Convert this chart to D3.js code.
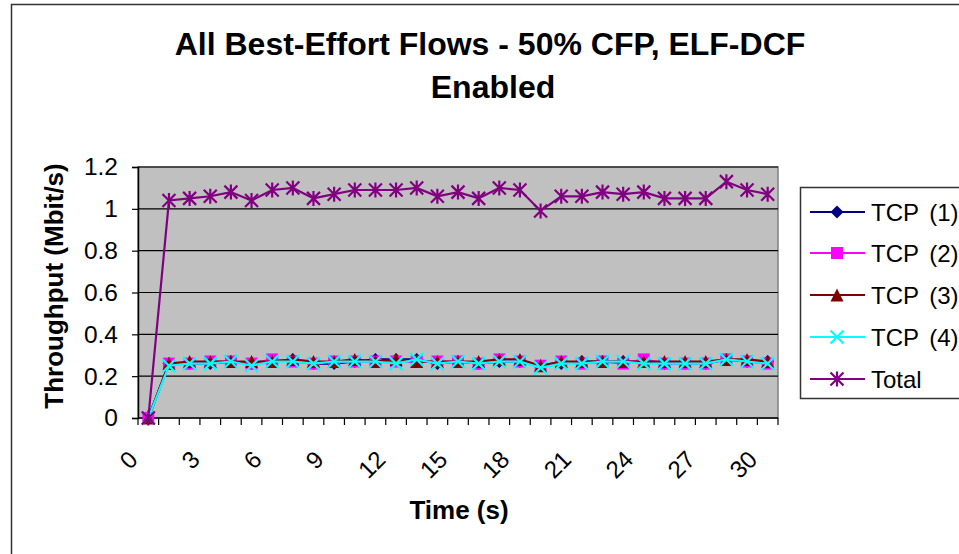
<!DOCTYPE html>
<html>
<head>
<meta charset="utf-8">
<script src="https://cdn.jsdelivr.net/npm/d3@7"></script>
<style>
  html, body { margin: 0; padding: 0; background: #fff; }
  svg { display: block; font-family: "Liberation Sans", Arial, sans-serif; }
</style>
</head>
<body>
<svg id="chart" width="959" height="554"></svg>
<script>
const categories = [0,1,2,3,4,5,6,7,8,9,10,11,12,13,14,15,16,17,18,19,20,21,22,23,24,25,26,27,28,29,30];
const xTickLabels = ["0","3","6","9","12","15","18","21","24","27","30"];
const yTicks = [0, 0.2, 0.4, 0.6, 0.8, 1, 1.2];
const yTickLabels = ["0","0.2","0.4","0.6","0.8","1","1.2"];
const seriesNames = ["TCP (1)", "TCP (2)", "TCP (3)", "TCP (4)", "Total"];
const tcp1 = [0,0.26,0.26,0.26,0.27,0.26,0.27,0.28,0.26,0.26,0.27,0.28,0.28,0.28,0.26,0.27,0.26,0.27,0.27,0.25,0.26,0.27,0.27,0.27,0.27,0.26,0.26,0.26,0.28,0.27,0.27];
const tcp2 = [0,0.26,0.26,0.27,0.27,0.26,0.28,0.27,0.26,0.27,0.27,0.27,0.27,0.27,0.27,0.27,0.26,0.28,0.27,0.25,0.27,0.26,0.27,0.26,0.28,0.26,0.26,0.26,0.28,0.27,0.26];
const tcp3 = [0,0.26,0.27,0.27,0.27,0.27,0.27,0.28,0.27,0.27,0.28,0.27,0.28,0.27,0.27,0.27,0.27,0.28,0.28,0.25,0.27,0.27,0.27,0.27,0.27,0.27,0.27,0.27,0.28,0.28,0.27];
const tcp4 = [0,0.25,0.26,0.26,0.27,0.25,0.27,0.27,0.26,0.27,0.27,0.27,0.26,0.28,0.26,0.27,0.26,0.27,0.27,0.24,0.26,0.26,0.27,0.27,0.26,0.26,0.26,0.26,0.28,0.27,0.26];
const total = [0,1.04,1.05,1.06,1.08,1.04,1.09,1.10,1.05,1.07,1.09,1.09,1.09,1.10,1.06,1.08,1.05,1.10,1.09,0.99,1.06,1.06,1.08,1.07,1.08,1.05,1.05,1.05,1.13,1.09,1.07];

const colors = ["#000080", "#FF00FF", "#800000", "#00FFFF", "#800080"];
const markers = ["diamond", "square", "triangle", "x", "star"];
const seriesData = [tcp1, tcp2, tcp3, tcp4, total];

const svg = d3.select("#chart");
const L = 138, R = 778, T = 167, B = 418;

// chart area border
svg.append("rect").attr("x", 11.5).attr("y", 4.5).attr("width", 1100).attr("height", 700)
  .attr("fill", "#fff").attr("stroke", "#333").attr("stroke-width", 1.5);

// title
svg.append("text").attr("x", 490).attr("y", 55).attr("text-anchor", "middle")
  .attr("font-size", 32).attr("font-weight", "bold").text("All Best-Effort Flows - 50% CFP, ELF-DCF");
svg.append("text").attr("x", 493).attr("y", 98).attr("text-anchor", "middle")
  .attr("font-size", 32).attr("font-weight", "bold").text("Enabled");

const x = d3.scaleBand().domain(categories).range([L, R]).paddingInner(0).paddingOuter(0);
const bw = x.bandwidth();
const cx = d => x(d) + bw / 2;
const y = d3.scaleLinear().domain([0, 1.2]).range([B, T]);

// plot background
svg.append("rect").attr("x", L).attr("y", T).attr("width", R - L).attr("height", B - T)
  .attr("fill", "#C0C0C0").attr("stroke", "#808080").attr("stroke-width", 1.5);

// gridlines
svg.append("g").selectAll("line").data(yTicks.slice(1)).join("line")
  .attr("x1", L).attr("x2", R).attr("y1", d => y(d)).attr("y2", d => y(d))
  .attr("stroke", "#000").attr("stroke-width", 1.2);

// y axis
const yAxis = d3.axisLeft(y).tickValues(yTicks).tickSize(6).tickPadding(14)
  .tickFormat((d, i) => yTickLabels[i]);
const gy = svg.append("g").attr("transform", `translate(${L},0)`).call(yAxis);
gy.select(".domain").attr("stroke", "#000").attr("stroke-width", 1.5);
gy.selectAll(".tick line").attr("stroke", "#000").attr("stroke-width", 1.2);
gy.selectAll(".tick text").attr("font-size", 24.5).attr("font-family", "Liberation Sans, Arial, sans-serif").attr("fill", "#000");

// x axis line
svg.append("line").attr("x1", L).attr("x2", R).attr("y1", B).attr("y2", B)
  .attr("stroke", "#000").attr("stroke-width", 1.5);
// x tick marks at category boundaries
const boundaries = categories.map(d => x(d)).concat([x(categories[categories.length - 1]) + bw]);
svg.append("g").selectAll("line").data(boundaries).join("line")
  .attr("x1", d => d).attr("x2", d => d).attr("y1", B).attr("y2", B + 7)
  .attr("stroke", "#000").attr("stroke-width", 1.2);
// x tick labels
svg.append("g").selectAll("text").data(xTickLabels).join("text")
  .attr("transform", d => `translate(${cx(+d) - 15},455) rotate(-45)`)
  .attr("text-anchor", "end").attr("dy", "0.35em")
  .attr("font-size", 24).text(d => d);

// axis titles
svg.append("text").attr("transform", `translate(63,286) rotate(-90)`).attr("text-anchor", "middle")
  .attr("font-size", 26).attr("font-weight", "bold").text("Throughput (Mbit/s)");
svg.append("text").attr("x", 459).attr("y", 519).attr("text-anchor", "middle")
  .attr("font-size", 26).attr("font-weight", "bold").text("Time (s)");

function drawMarker(g, type, color) {
  const s = 6.5;
  if (type === "diamond") {
    g.append("path").attr("d", `M0,${-s}L${s},0L0,${s}L${-s},0Z`).attr("fill", color);
  } else if (type === "square") {
    g.append("rect").attr("x", -6).attr("y", -6).attr("width", 12).attr("height", 12).attr("fill", color);
  } else if (type === "triangle") {
    g.append("path").attr("d", `M0,${-s}L${s},${s}L${-s},${s}Z`).attr("fill", color);
  } else if (type === "x") {
    g.append("path").attr("d", `M${-s},${-s}L${s},${s}M${-s},${s}L${s},${-s}`)
      .attr("stroke", color).attr("stroke-width", 2.2).attr("fill", "none");
  } else {
    g.append("path").attr("d", `M${-s},${-s}L${s},${s}M${-s},${s}L${s},${-s}M0,${-s - 1}L0,${s + 1}`)
      .attr("stroke", color).attr("stroke-width", 2.2).attr("fill", "none");
  }
}

const line = d3.line().x((d, i) => cx(categories[i])).y(d => y(d));
seriesData.forEach((vals, si) => {
  const g = svg.append("g");
  g.append("path").datum(vals).attr("d", line).attr("fill", "none")
    .attr("stroke", colors[si]).attr("stroke-width", 2.2);
  vals.forEach((v, i) => {
    const mg = g.append("g").attr("transform", `translate(${cx(categories[i])},${y(v)})`);
    drawMarker(mg, markers[si], colors[si]);
  });
});

// legend
const leg = svg.append("g");
leg.append("rect").attr("x", 800.5).attr("y", 187.5).attr("width", 300).attr("height", 211)
  .attr("fill", "#fff").attr("stroke", "#333").attr("stroke-width", 1.5);
const legY = [212, 253, 295, 337, 379];
seriesNames.forEach((name, i) => {
  const row = leg.append("g").attr("transform", `translate(0,${legY[i]})`);
  row.append("line").attr("x1", 810).attr("x2", 865).attr("y1", 0).attr("y2", 0)
    .attr("stroke", colors[i]).attr("stroke-width", 2.2);
  const mg = row.append("g").attr("transform", "translate(837,0)");
  drawMarker(mg, markers[i], colors[i]);
  row.append("text").attr("x", 871).attr("y", 0).attr("dy", "0.36em")
    .attr("font-size", 24).attr("word-spacing", 4).text(name);
});
</script>
</body>
</html>
